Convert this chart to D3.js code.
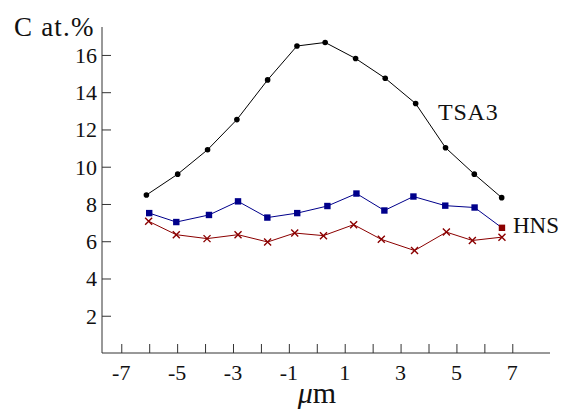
<!DOCTYPE html>
<html>
<head>
<meta charset="utf-8">
<script src="https://cdn.jsdelivr.net/npm/d3@7"></script>
<style>
  body { margin: 0; background: #fff; }
</style>
</head>
<body>
<div id="chart"></div>
<script>
const width = 563;
const height = 412;
const serif = "Liberation Serif";

// readings (position in µm, carbon at.%)
const tsaX = [-6.1, -4.98, -3.91, -2.86, -1.76, -0.71, 0.3, 1.39, 2.45, 3.54, 4.61, 5.64, 6.62];
const tsaY = [8.48, 9.6, 10.91, 12.53, 14.66, 16.48, 16.67, 15.81, 14.75, 13.39, 11.02, 9.6, 8.34];

const hnsX = [-6.0, -5.03, -3.86, -2.82, -1.77, -0.7, 0.38, 1.42, 2.42, 3.46, 4.6, 5.65, 6.63];
const hnsY = [7.51, 7.03, 7.41, 8.14, 7.27, 7.51, 7.89, 8.56, 7.65, 8.4, 7.91, 7.81, 6.72];

const redX = [-6.02, -5.03, -3.93, -2.82, -1.76, -0.79, 0.24, 1.32, 2.31, 3.5, 4.64, 5.57, 6.63];
const redY = [7.07, 6.35, 6.14, 6.35, 5.96, 6.44, 6.3, 6.89, 6.1, 5.5, 6.49, 6.04, 6.22];

const xTickLabels = [-7, -5, -3, -1, 1, 3, 5, 7];
const xMinorTicks = d3.range(-7, 8);
const yTickLabels = [2, 4, 6, 8, 10, 12, 14, 16];

const xScale = d3.scaleLinear().domain([-7.69, 8.35]).range([102, 550]);
const yScale = d3.scaleLinear().domain([0, 17.5]).range([353, 27]);

const svg = d3
  .select("#chart")
  .append("svg")
  .attr("width", width)
  .attr("height", height);

const zip = (xs, ys) => xs.map((x, i) => ({ x, y: ys[i] }));

// axes: ticks point into the plot
const xAxis = d3
  .axisBottom(xScale)
  .tickValues(xMinorTicks)
  .tickSize(-9)
  .tickFormat("");

svg
  .append("g")
  .attr("transform", `translate(0, ${yScale(0)})`)
  .call(xAxis)
  .call((g) => {
    g.select(".domain").attr("stroke", "#333").attr("d", `M102,0H550`);
    g.selectAll("line").attr("stroke", "#333");
  });

const labelText = (sel) => sel.attr("font-family", serif).attr("fill", "#111");

svg
  .append("g")
  .selectAll("text")
  .data(xTickLabels)
  .join("text")
  .call(labelText)
  .attr("x", (d) => xScale(d))
  .attr("y", 380)
  .attr("text-anchor", "middle")
  .attr("font-size", 22)
  .text((d) => d);

const yAxis = d3
  .axisLeft(yScale)
  .tickValues(yTickLabels)
  .tickSize(-9)
  .tickFormat("");

svg
  .append("g")
  .attr("transform", `translate(${xScale.range()[0]}, 0)`)
  .call(yAxis)
  .call((g) => {
    g.select(".domain").attr("stroke", "#333").attr("d", `M0,27V353`);
    g.selectAll("line").attr("stroke", "#333");
  });

svg
  .append("g")
  .selectAll("text")
  .data(yTickLabels)
  .join("text")
  .call(labelText)
  .attr("x", 97)
  .attr("y", (d) => yScale(d) + 8)
  .attr("text-anchor", "end")
  .attr("font-size", 22)
  .text((d) => d);

svg
  .append("text")
  .call(labelText)
  .attr("x", 14)
  .attr("y", 36)
  .attr("font-size", 27)
  .attr("letter-spacing", 1.2)
  .text("C at.%");

const axisTitle = svg
  .append("text")
  .call(labelText)
  .attr("x", 317)
  .attr("y", 403)
  .attr("text-anchor", "middle")
  .attr("font-size", 30);
axisTitle.append("tspan").attr("font-style", "italic").text("μ");
axisTitle.append("tspan").text("m");

const line = d3
  .line()
  .x((d) => xScale(d.x))
  .y((d) => yScale(d.y));

// TSA3
const tsa = zip(tsaX, tsaY);
svg
  .append("path")
  .datum(tsa)
  .attr("fill", "none")
  .attr("stroke", "#000")
  .attr("stroke-width", 1)
  .attr("d", line);
svg
  .append("g")
  .selectAll("circle")
  .data(tsa)
  .join("circle")
  .attr("cx", (d) => xScale(d.x))
  .attr("cy", (d) => yScale(d.y))
  .attr("r", 2.8)
  .attr("fill", "#000");

// HNS
const hns = zip(hnsX, hnsY);
svg
  .append("path")
  .datum(hns)
  .attr("fill", "none")
  .attr("stroke", "#00008b")
  .attr("stroke-width", 1)
  .attr("d", line);
svg
  .append("g")
  .selectAll("rect")
  .data(hns)
  .join("rect")
  .attr("x", (d) => xScale(d.x) - 3.2)
  .attr("y", (d) => yScale(d.y) - 3.2)
  .attr("width", 6.4)
  .attr("height", 6.4)
  .attr("fill", (d, i) => (i === hns.length - 1 ? "#8b0000" : "#00008b"));

// red crosses
const red = zip(redX, redY);
svg
  .append("path")
  .datum(red)
  .attr("fill", "none")
  .attr("stroke", "#8b0000")
  .attr("stroke-width", 1)
  .attr("d", line);
svg
  .append("g")
  .selectAll("path")
  .data(red)
  .join("path")
  .attr("transform", (d) => `translate(${xScale(d.x)}, ${yScale(d.y)})`)
  .attr("d", "M-3.5,-3.5L3.5,3.5M-3.5,3.5L3.5,-3.5")
  .attr("stroke", "#8b0000")
  .attr("stroke-width", 1.4);

// series labels
svg
  .append("text")
  .call(labelText)
  .attr("x", 438)
  .attr("y", 120)
  .attr("font-size", 24)
  .attr("letter-spacing", 0.8)
  .text("TSA3");

svg
  .append("text")
  .call(labelText)
  .attr("x", 513)
  .attr("y", 233)
  .attr("font-size", 23)
  .text("HNS");
</script>
</body>
</html>
